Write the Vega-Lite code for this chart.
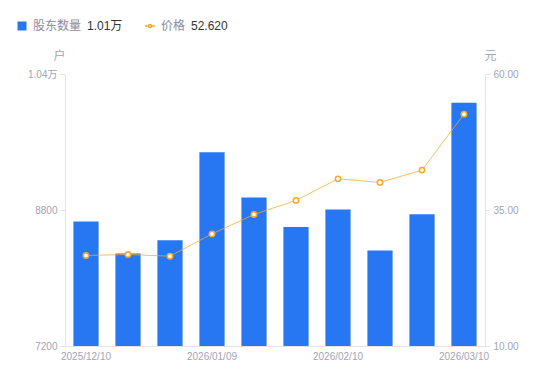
{
  "$schema": "https://vega.github.io/schema/vega-lite/v6.json",
  "width": 420,
  "height": 272,
  "autosize": {"type": "none"},
  "padding": {"left": 65, "top": 74, "right": 65, "bottom": 35},
  "background": "white",
  "config": {
    "view": {"stroke": null},
    "font": "Liberation Sans, Noto Sans CJK SC, sans-serif",
    "axis": {"labelFont": "Liberation Sans, Noto Sans CJK SC, sans-serif", "titleFont": "Liberation Sans, Noto Sans CJK SC, sans-serif"},
    "legend": {"labelFont": "Liberation Sans, Noto Sans CJK SC, sans-serif", "titleFont": "Liberation Sans, Noto Sans CJK SC, sans-serif"}
  },
  "data": {
    "values": [
      {"date": "2025/12/10", "holders": 8665, "price": 26.64},
      {"date": "2025/12/19", "holders": 8288, "price": 26.82},
      {"date": "2025/12/31", "holders": 8445, "price": 26.51},
      {"date": "2026/01/09", "holders": 9478, "price": 30.61},
      {"date": "2026/01/20", "holders": 8948, "price": 34.18},
      {"date": "2026/01/30", "holders": 8601, "price": 36.76},
      {"date": "2026/02/10", "holders": 8806, "price": 40.73},
      {"date": "2026/02/20", "holders": 8324, "price": 40.07},
      {"date": "2026/02/28", "holders": 8751, "price": 42.33},
      {"date": "2026/03/10", "holders": 10062, "price": 52.62}
    ]
  },
  "encoding": {
    "x": {
      "field": "date",
      "type": "nominal",
      "sort": null,
      "scale": {"paddingInner": 0.4, "paddingOuter": 0.2},
      "axis": {
        "title": null,
        "values": ["2025/12/10", "2026/01/09", "2026/02/10", "2026/03/10"],
        "labelAngle": 0,
        "labelColor": "#a3a3b5",
        "labelFontSize": 10,
        "labelPadding": 5,
        "ticks": false,
        "domainColor": "#e3e3e8",
        "grid": false
      }
    }
  },
  "layer": [
    {
      "mark": {"type": "bar", "color": "#2777f2", "clip": true},
      "encoding": {
        "y": {
          "field": "holders",
          "type": "quantitative",
          "scale": {"domain": [7200, 10400], "zero": false, "nice": false},
          "axis": {
            "title": "户",
            "titleAngle": 0,
            "titleX": -6,
            "titleY": -12,
            "titleAlign": "center",
            "titleBaseline": "bottom",
            "titleColor": "#a3a3b5",
            "titleFontSize": 12,
            "titleFontWeight": "normal",
            "values": [7200, 8800, 10400],
            "labelExpr": "datum.value >= 10000 ? format(datum.value / 10000, '.2f') + '万' : format(datum.value, 'd')",
            "labelColor": "#a3a3b5",
            "labelFontSize": 10,
            "labelPadding": 3,
            "tickSize": 5,
            "tickColor": "#e3e3e8",
            "domainColor": "#e3e3e8",
            "grid": false
          }
        },
        "fill": {
          "datum": "股东数量",
          "scale": {"range": ["#2777f2"]},
          "legend": {
            "orient": "none",
            "legendX": -49,
            "legendY": -54,
            "title": "1.01万",
            "titleOrient": "right",
            "titleFontSize": 12,
            "titleFontWeight": "normal",
            "titleColor": "#333333",
            "titlePadding": 6,
            "titleBaseline": "middle",
            "labelFontSize": 12,
            "labelColor": "#8a8a9c",
            "labelOffset": 5,
            "symbolType": "square",
            "symbolSize": 81,
            "symbolStrokeWidth": 0
          }
        }
      }
    },
    {
      "mark": {"type": "line", "strokeWidth": 1, "strokeOpacity": 0.75},
      "encoding": {
        "y": {
          "field": "price",
          "type": "quantitative",
          "scale": {"domain": [10, 60], "zero": false, "nice": false},
          "axis": {
            "orient": "right",
            "title": "元",
            "titleAngle": 0,
            "titleX": 5,
            "titleY": -12,
            "titleAlign": "center",
            "titleBaseline": "bottom",
            "titleColor": "#a3a3b5",
            "titleFontSize": 12,
            "titleFontWeight": "normal",
            "values": [10, 35, 60],
            "format": ".2f",
            "labelColor": "#a3a3b5",
            "labelFontSize": 10,
            "labelPadding": 3,
            "tickSize": 5,
            "tickColor": "#e3e3e8",
            "domainColor": "#e3e3e8",
            "grid": false
          }
        },
        "stroke": {
          "datum": "价格",
          "scale": {"range": ["#f5a929"]},
          "legend": {
            "orient": "none",
            "legendX": 79,
            "legendY": -54,
            "title": "52.620",
            "titleOrient": "right",
            "titleFontSize": 12,
            "titleFontWeight": "normal",
            "titleColor": "#333333",
            "titlePadding": 6,
            "titleBaseline": "middle",
            "labelFontSize": 12,
            "labelColor": "#8a8a9c",
            "labelOffset": 5,
            "symbolType": "M-1,0L-0.45,0M0.45,0L1,0M-0.3,0A0.3,0.3 0 1,0 0.3,0A0.3,0.3 0 1,0 -0.3,0",
            "symbolSize": 100,
            "symbolStrokeWidth": 1.6,
            "symbolFillColor": "white"
          }
        }
      }
    },
    {
      "mark": {"type": "point", "filled": false, "fill": "white", "fillOpacity": 1, "strokeWidth": 1.6, "size": 28, "opacity": 1},
      "encoding": {
        "y": {"field": "price", "type": "quantitative", "scale": {"domain": [10, 60], "zero": false, "nice": false}, "axis": null},
        "stroke": {"datum": "价格", "scale": {"range": ["#f5a929"]}}
      }
    }
  ],
  "resolve": {"scale": {"y": "independent"}}
}
